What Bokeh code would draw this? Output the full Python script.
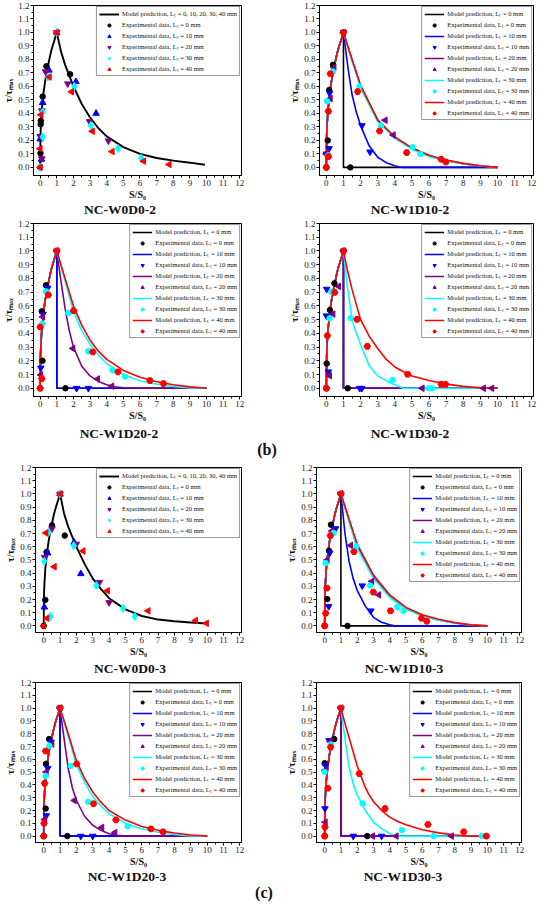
import math
from bokeh.plotting import figure
from bokeh.layouts import column, row
from bokeh.models import Range1d, FixedTicker, Div, Spacer, Legend, LegendItem, PrintfTickFormatter
from bokeh.embed import file_html
from bokeh.resources import INLINE

# ---------------- ticks ----------------
X_TICKS = [0, 1, 2, 3, 4, 5, 6, 7, 8, 9, 10, 11, 12]
X_MINOR = [0.5, 1.5, 2.5, 3.5, 4.5, 5.5, 6.5, 7.5, 8.5, 9.5, 10.5, 11.5]
Y_TICKS = [0.0, 0.1, 0.2, 0.3, 0.4, 0.5, 0.6, 0.7, 0.8, 0.9, 1.0, 1.1, 1.2]
Y_MINOR = [0.05, 0.15, 0.25, 0.35, 0.45, 0.55, 0.65, 0.75, 0.85, 0.95, 1.05, 1.15]

LENGTHS = ["0", "10", "20", "30", "40"]
TITLES = ["NC-W0D0-2", "NC-W1D10-2", "NC-W1D20-2", "NC-W1D30-2",
          "NC-W0D0-3", "NC-W1D10-3", "NC-W1D20-3", "NC-W1D30-3"]
TAGS = ["(b)", "(c)"]

# ---------------- model curves ----------------
ASC_S = [0.0, 0.02, 0.05, 0.1, 0.2, 0.3, 0.4, 0.5, 0.6, 0.7, 0.8, 0.9, 1.0]
ASC_T = [0.0, 0.24, 0.33, 0.43, 0.55, 0.64, 0.71, 0.77, 0.83, 0.88, 0.92, 0.96, 1.0]
DROP_S = [1.0, 10.0]
DROP_T = [0.0, 0.0]

W0D0_2_S = [1.25, 1.5, 2, 2.5, 3, 3.5, 4, 5, 6, 7, 8, 9, 9.9]
W0D0_2_T = [0.86, 0.76, 0.6, 0.47, 0.37, 0.29, 0.23, 0.15, 0.1, 0.07, 0.05, 0.035, 0.02]

W1D10_2_L10_S = [1.25, 1.5, 1.75, 2, 2.5, 3, 3.5, 4, 4.4, 10]
W1D10_2_L10_T = [0.75, 0.54, 0.41, 0.31, 0.16, 0.075, 0.035, 0.012, 0.0, 0.0]
W1D10_2_L20_S = [1.5, 2, 3, 4, 5, 6, 7, 8, 9, 10]
W1D10_2_L20_T = [0.8, 0.6, 0.35, 0.22, 0.14, 0.085, 0.05, 0.028, 0.01, 0.0]
W1D10_2_L30_S = [1.5, 2, 3, 4, 5, 6, 7, 8, 9, 10]
W1D10_2_L30_T = [0.79, 0.59, 0.34, 0.215, 0.135, 0.08, 0.048, 0.026, 0.01, 0.0]
W1D10_2_L40_S = [1.5, 2, 3, 4, 5, 6, 7, 8, 9, 10]
W1D10_2_L40_T = [0.8, 0.61, 0.35, 0.225, 0.145, 0.09, 0.055, 0.03, 0.012, 0.0]

W1D20_2_L20_S = [1.25, 1.5, 1.75, 2, 2.5, 3, 3.5, 4, 4.5, 5, 6, 10]
W1D20_2_L20_T = [0.78, 0.58, 0.42, 0.3, 0.16, 0.09, 0.05, 0.025, 0.01, 0.004, 0.0, 0.0]
W1D20_2_L30_S = [1.5, 2, 2.5, 3, 3.5, 4, 5, 6, 7, 8, 9, 10]
W1D20_2_L30_T = [0.78, 0.56, 0.42, 0.32, 0.24, 0.18, 0.1, 0.055, 0.03, 0.013, 0.003, 0.0]
W1D20_2_L40_S = [1.5, 2, 2.5, 3, 3.5, 4, 5, 6, 7, 8, 9, 10]
W1D20_2_L40_T = [0.8, 0.6, 0.46, 0.35, 0.27, 0.21, 0.13, 0.08, 0.048, 0.025, 0.01, 0.0]

W1D30_2_L30_S = [1.25, 1.5, 1.75, 2, 2.5, 3, 3.5, 4, 4.5, 10]
W1D30_2_L30_T = [0.72, 0.5, 0.4, 0.32, 0.165, 0.09, 0.055, 0.025, 0.0, 0.0]
W1D30_2_L40_S = [1.25, 1.5, 2, 2.5, 3, 3.5, 4, 4.5, 5, 6, 7, 8, 9, 10]
W1D30_2_L40_T = [0.85, 0.72, 0.5, 0.38, 0.29, 0.21, 0.155, 0.12, 0.09, 0.056, 0.03, 0.014, 0.003, 0.0]

W0D0_3_S = [1.25, 1.5, 2, 2.5, 3, 3.5, 4, 5, 6, 7, 8, 9, 10]
W0D0_3_T = [0.85, 0.75, 0.6, 0.47, 0.36, 0.28, 0.21, 0.125, 0.075, 0.048, 0.035, 0.026, 0.018]

W1D10_3_L10_S = [1.25, 1.5, 1.75, 2, 2.5, 3, 3.5, 4, 4.3, 10]
W1D10_3_L10_T = [0.7, 0.49, 0.36, 0.27, 0.15, 0.065, 0.028, 0.008, 0.0, 0.0]
W1D10_3_L20_S = [1.5, 2, 3, 4, 5, 6, 7, 8, 9, 10]
W1D10_3_L20_T = [0.8, 0.6, 0.37, 0.22, 0.13, 0.078, 0.045, 0.022, 0.007, 0.0]
W1D10_3_L30_S = [1.5, 2, 3, 4, 5, 6, 7, 8, 9, 10]
W1D10_3_L30_T = [0.79, 0.59, 0.36, 0.215, 0.128, 0.075, 0.043, 0.02, 0.006, 0.0]
W1D10_3_L40_S = [1.5, 2, 3, 4, 5, 6, 7, 8, 9, 10]
W1D10_3_L40_T = [0.81, 0.62, 0.385, 0.235, 0.14, 0.085, 0.05, 0.025, 0.008, 0.0]

W1D20_3_L20_S = [1.25, 1.5, 1.75, 2, 2.5, 3, 3.5, 4, 4.5, 5, 10]
W1D20_3_L20_T = [0.76, 0.53, 0.38, 0.28, 0.155, 0.085, 0.045, 0.018, 0.006, 0.0, 0.0]
W1D20_3_L30_S = [1.5, 2, 2.5, 3, 3.5, 4, 5, 6, 7, 8, 9, 10]
W1D20_3_L30_T = [0.78, 0.56, 0.42, 0.31, 0.235, 0.175, 0.1, 0.056, 0.03, 0.012, 0.002, 0.0]
W1D20_3_L40_S = [1.5, 2, 2.5, 3, 3.5, 4, 5, 6, 7, 8, 9, 10]
W1D20_3_L40_T = [0.8, 0.59, 0.45, 0.345, 0.265, 0.2, 0.125, 0.075, 0.045, 0.024, 0.008, 0.0]

W1D30_3_L30_S = [1.25, 1.5, 1.75, 2, 2.5, 3, 3.5, 4, 4.4, 10]
W1D30_3_L30_T = [0.76, 0.54, 0.41, 0.32, 0.2, 0.11, 0.058, 0.02, 0.0, 0.0]
W1D30_3_L40_S = [1.25, 1.5, 2, 2.5, 2.7, 3, 3.5, 4, 4.5, 5, 6, 7, 8, 8.5, 9, 10]
W1D30_3_L40_T = [0.88, 0.77, 0.55, 0.38, 0.33, 0.27, 0.2, 0.148, 0.114, 0.088, 0.05, 0.025, 0.008, 0.002, 0.0, 0.0]

# ---------------- experimental data (S/S0, tau/tau_max) ----------------
W0D0_2_E0 = [(0, 0), (0.02, 0.105), (0.03, 0.32), (0.04, 0.345), (0.15, 0.525), (0.38, 0.75), (1.8, 0.69)]
W0D0_2_E10 = [(0, 0.21), (0.08, 0.06), (0.15, 0.48), (0.53, 0.72), (1, 1), (2.15, 0.635), (3.36, 0.40)]
W0D0_2_E20 = [(0, 0.23), (0.1, 0.065), (0.1, 0.42), (0.32, 0.71), (1, 1), (1.66, 0.62), (2.97, 0.34), (4.1, 0.197)]
W0D0_2_E30 = [(0, 0), (0.15, 0.226), (0.15, 0.41), (0.47, 0.67), (1, 1), (2.05, 0.6), (3.04, 0.31), (4.68, 0.14), (6.07, 0.068)]
W0D0_2_E40 = [(0, 0), (0, 0.139), (0.05, 0.39), (0.55, 0.67), (1.0, 1.0), (1.89, 0.56), (3.14, 0.268), (4.33, 0.117), (6.22, 0.046), (7.75, 0.022)]

W1D10_2_E0 = [(0, 0), (0.08, 0.2), (0.17, 0.574), (0.39, 0.76), (1, 1), (1.4, 0)]
W1D10_2_E10 = [(0.0, 0.1), (0.16, 0.14), (0.19, 0.55), (1, 1), (2.08, 0.31), (2.55, 0.115)]
W1D10_2_E20 = [(0.0, 0.1), (0.23, 0.51), (0.45, 0.74), (1, 1), (3.44, 0.35), (3.91, 0.24)]
W1D10_2_E30 = [(0.12, 0.09), (0.04, 0.49), (0.39, 0.71), (1, 1), (1.93, 0.6), (3.2, 0.31), (5.04, 0.15), (5.49, 0.1)]
W1D10_2_E40 = [(0, 0), (0.12, 0.08), (0.12, 0.416), (0.23, 0.694), (1, 1), (1.83, 0.562), (3.11, 0.27), (4.69, 0.11), (6.71, 0.06), (6.98, 0.04)]

W1D20_2_E0 = [(0, 0), (0.14, 0.2), (0.1, 0.56), (0.35, 0.75), (1, 1), (1.52, 0)]
W1D20_2_E10 = [(0.04, 0.148), (0.18, 0.54), (0.45, 0.73), (1, 1), (2.19, 0), (2.9, 0)]
W1D20_2_E20 = [(0.04, 0.097), (0.15, 0.52), (1, 1), (1.97, 0.29), (3.45, 0.068), (4.31, 0.015)]
W1D20_2_E30 = [(0.12, 0.47), (0.35, 0.705), (1, 1), (1.7, 0.548), (2.89, 0.27), (4.35, 0.131), (5.1, 0.085)]
W1D20_2_E40 = [(0, 0), (0, 0.446), (0.1, 0.07), (0.49, 0.68), (1, 1), (2.01, 0.565), (3.16, 0.264), (4.68, 0.119), (6.6, 0.056), (7.41, 0.034)]

W1D30_2_E0 = [(0, 0), (0.02, 0.18), (0.21, 0.57), (0.47, 0.764), (1, 1), (1.25, 0)]
W1D30_2_E10 = [(0.02, 0.722), (0, 0.528), (0.12, 0.12), (1, 1), (1.95, 0), (2.07, 0)]
W1D30_2_E20 = [(0.19, 0.092), (0.39, 0.54), (0.72, 0.742), (1, 1), (5.6, 0), (9.18, 0), (9.67, 0)]
W1D30_2_E30 = [(0.19, 0.51), (0.3, 0.7), (1, 1), (1.42, 0.51), (3.87, 0.06), (5.97, 0), (6.17, 0)]
W1D30_2_E40 = [(0, 0), (0.06, 0.383), (0.49, 0.698), (1, 1), (1.79, 0.502), (2.39, 0.305), (4.75, 0.102), (6.71, 0.029), (6.96, 0.029)]

W0D0_3_E0 = [(0, 0), (0.1, 0.197), (0.18, 0.56), (0.51, 0.762), (1, 1), (1.29, 0.684)]
W0D0_3_E10 = [(0.04, 0.142), (0.24, 0.552), (1, 1), (1.86, 0.633), (2.27, 0.395)]
W0D0_3_E20 = [(0.06, 0.52), (0.51, 0.737), (1, 1), (2.0, 0.62), (3.41, 0.33), (4.0, 0.177)]
W0D0_3_E30 = [(0.04, 0.49), (0.31, 0.71), (0.41, 0.071), (1, 1), (1.84, 0.608), (3.22, 0.306), (4.86, 0.134), (5.57, 0.071)]
W0D0_3_E40 = [(0, 0), (0.2, 0.058), (0.14, 0.704), (0.65, 0.448), (1.02, 1.0), (2.41, 0.567), (3.9, 0.266), (6.39, 0.114), (9.29, 0.04), (9.96, 0.02)]

W1D10_3_E0 = [(0, 0), (0.16, 0.203), (0.27, 0.57), (0.39, 0.767), (1, 1), (1.41, 0)]
W1D10_3_E10 = [(0.25, 0.147), (0.31, 0.552), (0.67, 0.737), (1, 1), (2.31, 0.304), (2.84, 0.114)]
W1D10_3_E20 = [(0.16, 0.5), (0.45, 0.72), (1, 1), (1.6, 0.61), (2.9, 0.337), (3.33, 0.235)]
W1D10_3_E30 = [(0.06, 0.476), (0.55, 0.704), (1, 1), (1.94, 0.603), (2.8, 0.306), (4.46, 0.142), (4.85, 0.114)]
W1D10_3_E40 = [(0, 0), (0.06, 0.096), (0.14, 0.286), (0.35, 0.684), (1, 1), (1.8, 0.562), (2.99, 0.256), (4.05, 0.114), (5.95, 0.058), (6.28, 0.035)]

W1D20_3_E0 = [(0, 0), (0.12, 0.215), (0.14, 0.564), (0.33, 0.758), (1, 1), (1.45, 0)]
W1D20_3_E10 = [(0.16, 0.16), (0.25, 0.53), (0.45, 0.736), (1, 1), (2.27, 0), (3.0, 0)]
W1D20_3_E20 = [(0.06, 0.13), (0.16, 0.5), (0.51, 0.72), (1, 1), (1.88, 0.278), (3.56, 0.068), (4.36, 0.028)]
W1D20_3_E30 = [(0.12, 0.47), (0.35, 0.705), (1, 1), (1.66, 0.549), (2.72, 0.268), (5.13, 0.078)]
W1D20_3_E40 = [(0, 0), (0.02, 0.1), (0.06, 0.412), (0.12, 0.665), (1, 1), (2.02, 0.564), (3.05, 0.253), (4.42, 0.126), (6.56, 0.056), (7.3, 0.033)]

W1D30_3_E0 = [(0, 0), (0, 0.569), (0.59, 0.758), (1, 1), (2.62, 0)]
W1D30_3_E10 = [(0.02, 0.215), (0.06, 0.551), (0.27, 0.748), (1, 1), (1.76, 0), (3.5, 0)]
W1D30_3_E20 = [(0.04, 0.109), (0.02, 0.513), (0.35, 0.741), (1, 1), (2.95, 0), (4.4, 0), (7.8, 0)]
W1D30_3_E30 = [(0, 0.5), (0.37, 0.716), (1, 1), (2.34, 0.255), (4.75, 0.046), (6.7, 0), (9.67, 0)]
W1D30_3_E40 = [(0, 0), (0.02, 0.071), (0.2, 0.374), (0.37, 0.695), (1, 1), (2.13, 0.488), (3.71, 0.215), (6.35, 0.091), (8.55, 0.033), (9.94, 0)]

# ---------------- styles ----------------
SERIF = "Liberation Serif"
COLORS = ["#000000", "#0000FF", "#800080", "#00FFFF", "#FF0000"]
MARK_A = [("circle", 0.0, 5.5), ("triangle", 0.0, 6.5), ("inverted_triangle", 0.0, 6.5),
          ("diamond", 0.0, 8.0), ("triangle", math.pi / 2, 6.5)]
MARK_B = [("circle", 0.0, 5.5), ("inverted_triangle", 0.0, 6.5), ("triangle", math.pi / 2, 6.5),
          ("circle", 0.0, 5.5), ("hex", 0.0, 6.5)]
LT = "L\u209c"


def curve(desc_s, desc_t):
    return ASC_S + desc_s, ASC_T + desc_t


def make_panel(geom, kind, models, exps):
    w, h, mbl, mbr, mbt, mbb, x0, y0 = geom
    p = figure(width=w, height=h, x_range=Range1d(x0, 12.1), y_range=Range1d(y0, 1.2),
               output_backend="svg", toolbar_location=None, title=None,
               min_border_left=mbl, min_border_right=mbr, min_border_top=mbt, min_border_bottom=mbb)
    p.background_fill_color = "white"
    p.border_fill_color = "white"
    p.outline_line_color = "black"
    p.outline_line_width = 1
    p.xgrid.visible = False
    p.ygrid.visible = False
    p.xaxis.ticker = FixedTicker(ticks=X_TICKS, minor_ticks=X_MINOR)
    p.yaxis.ticker = FixedTicker(ticks=Y_TICKS, minor_ticks=Y_MINOR)
    p.xaxis.formatter = PrintfTickFormatter(format="%d")
    p.yaxis.formatter = PrintfTickFormatter(format="%.1f")
    for ax in (p.xaxis[0], p.yaxis[0]):
        ax.axis_line_color = "black"
        ax.major_tick_line_color = "black"
        ax.minor_tick_line_color = "black"
        ax.major_tick_out = 3
        ax.major_tick_in = 0
        ax.minor_tick_out = 2
        ax.minor_tick_in = 0
        ax.major_label_text_font = SERIF
        ax.major_label_text_font_size = "9px"
        ax.major_label_text_color = "#222222"
        ax.major_label_standoff = 1
        ax.axis_label_text_font = SERIF
        ax.axis_label_text_font_size = "10px"
        ax.axis_label_text_font_style = "bold"
        ax.axis_label_text_color = "#111111"
        ax.axis_label_standoff = 1
    p.xaxis.axis_label_standoff = 0
    p.xaxis.axis_label = "S/S\u2080"
    p.yaxis.axis_label = "\u03c4/\u03c4\u2098\u2090\u2093"

    items = []
    line_rs = []
    for (s, t), col in models:
        r = p.line(s, t, line_color=col, line_width=1.6 if kind == "B" else 1.9)
        line_rs.append(r)
    marks = MARK_A if kind == "A" else MARK_B
    scat_rs = []
    for i, pts in enumerate(exps):
        mk, ang, sz = marks[i]
        xs = [q[0] for q in pts]
        ys = [q[1] for q in pts]
        r = p.scatter(xs, ys, marker=mk, angle=ang, size=sz,
                      fill_color=COLORS[i], line_color=COLORS[i])
        scat_rs.append(r)
    if kind == "A":
        items.append(LegendItem(label="Model prediction, " + LT + " = 0, 10, 20, 30, 40 mm", renderers=[line_rs[0]]))
        for i, L in enumerate(LENGTHS):
            items.append(LegendItem(label="Experimental data, " + LT + " = " + L + " mm", renderers=[scat_rs[i]]))
    else:
        for i, L in enumerate(LENGTHS):
            items.append(LegendItem(label="Model prediction, " + LT + " = " + L + " mm", renderers=[line_rs[i]]))
            items.append(LegendItem(label="Experimental data, " + LT + " = " + L + " mm", renderers=[scat_rs[i]]))
    leg = Legend(items=items, location="top_right")
    leg.label_text_font = SERIF
    leg.label_text_font_size = "6.5px"
    leg.label_text_color = "#111111"
    leg.glyph_width = 20
    leg.glyph_height = 8
    leg.label_height = 8
    leg.spacing = 2
    leg.padding = 2
    leg.margin = 1
    leg.label_standoff = 3
    leg.border_line_color = "#333333"
    leg.border_line_width = 1
    leg.background_fill_alpha = 1.0
    p.add_layout(leg)
    return p


def text_div(text, width, size):
    return Div(text=text, width=width, height=16, margin=(0, 0, 0, 0),
               styles={"text-align": "center", "font-family": SERIF, "font-weight": "bold",
                       "font-size": size, "line-height": "16px", "color": "#111111",
                       "white-space": "nowrap"})


def title_row(left_text, right_text, left_w, gap, right_w):
    return row(text_div(left_text, left_w, "13.5px"), Spacer(width=gap, height=16),
               text_div(right_text, right_w, "13.5px"))


def models_B(l10, l20, l30, l40):
    out = [(curve(DROP_S, DROP_T), COLORS[0])]
    for c, col in zip((l10, l20, l30, l40), COLORS[1:]):
        out.append((curve(*c), col))
    return out


DROP = (DROP_S, DROP_T)

# geometry: width, height, min borders (l, r, t, b), x start, y start
G1L = (282, 202, 28, 41, 5, 27, -0.4, -0.06)
G1R = (257, 202, 37, 6, 5, 27, -0.4, -0.06)
G2L = (282, 208, 28, 41, 5, 30, -0.4, -0.06)
G2R = (257, 208, 37, 6, 5, 30, -0.4, -0.06)
G3L = (282, 203, 35, 41, 9, 29, -0.5, -0.05)
G3R = (257, 203, 34, 18, 9, 29, -0.5, -0.05)
G4L = (282, 192, 35, 41, 5, 26, -0.5, -0.05)
G4R = (257, 192, 34, 18, 5, 26, -0.5, -0.05)

p1 = make_panel(G1L, "A", [(curve(W0D0_2_S, W0D0_2_T), COLORS[0])],
                [W0D0_2_E0, W0D0_2_E10, W0D0_2_E20, W0D0_2_E30, W0D0_2_E40])
p2 = make_panel(G1R, "B", models_B((W1D10_2_L10_S, W1D10_2_L10_T), (W1D10_2_L20_S, W1D10_2_L20_T),
                                   (W1D10_2_L30_S, W1D10_2_L30_T), (W1D10_2_L40_S, W1D10_2_L40_T)),
                [W1D10_2_E0, W1D10_2_E10, W1D10_2_E20, W1D10_2_E30, W1D10_2_E40])
p3 = make_panel(G2L, "B", models_B(DROP, (W1D20_2_L20_S, W1D20_2_L20_T),
                                   (W1D20_2_L30_S, W1D20_2_L30_T), (W1D20_2_L40_S, W1D20_2_L40_T)),
                [W1D20_2_E0, W1D20_2_E10, W1D20_2_E20, W1D20_2_E30, W1D20_2_E40])
p4 = make_panel(G2R, "B", models_B(DROP, DROP,
                                   (W1D30_2_L30_S, W1D30_2_L30_T), (W1D30_2_L40_S, W1D30_2_L40_T)),
                [W1D30_2_E0, W1D30_2_E10, W1D30_2_E20, W1D30_2_E30, W1D30_2_E40])
p5 = make_panel(G3L, "A", [(curve(W0D0_3_S, W0D0_3_T), COLORS[0])],
                [W0D0_3_E0, W0D0_3_E10, W0D0_3_E20, W0D0_3_E30, W0D0_3_E40])
p6 = make_panel(G3R, "B", models_B((W1D10_3_L10_S, W1D10_3_L10_T), (W1D10_3_L20_S, W1D10_3_L20_T),
                                   (W1D10_3_L30_S, W1D10_3_L30_T), (W1D10_3_L40_S, W1D10_3_L40_T)),
                [W1D10_3_E0, W1D10_3_E10, W1D10_3_E20, W1D10_3_E30, W1D10_3_E40])
p7 = make_panel(G4L, "B", models_B(DROP, (W1D20_3_L20_S, W1D20_3_L20_T),
                                   (W1D20_3_L30_S, W1D20_3_L30_T), (W1D20_3_L40_S, W1D20_3_L40_T)),
                [W1D20_3_E0, W1D20_3_E10, W1D20_3_E20, W1D20_3_E30, W1D20_3_E40])
p8 = make_panel(G4R, "B", models_B(DROP, DROP,
                                   (W1D30_3_L30_S, W1D30_3_L30_T), (W1D30_3_L40_S, W1D30_3_L40_T)),
                [W1D30_3_E0, W1D30_3_E10, W1D30_3_E20, W1D30_3_E30, W1D30_3_E40])

layout = column(
    row(p1, p2), title_row(TITLES[0], TITLES[1], 240, 42, 256),
    row(p3, p4), title_row(TITLES[2], TITLES[3], 238, 44, 256),
    text_div(TAGS[0], 534, "16px"),
    row(p5, p6), title_row(TITLES[4], TITLES[5], 260, 22, 244),
    row(p7, p8), title_row(TITLES[6], TITLES[7], 254, 28, 242),
    text_div(TAGS[1], 528, "16px"),
)
open("out.html", "w").write(file_html(layout, INLINE))
